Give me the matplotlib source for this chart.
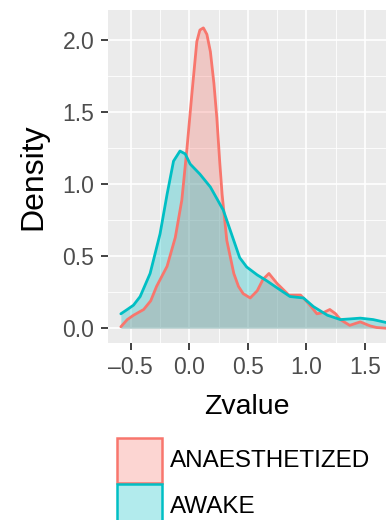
import matplotlib.pyplot as plt
from matplotlib.patches import Rectangle
from matplotlib.ticker import MultipleLocator

plt.rcParams["font.family"] = ["Liberation Sans", "DejaVu Sans"]

# density curves
anaes_x = [-0.585, -0.53, -0.477, -0.39, -0.33, -0.28, -0.19, -0.12, -0.064, -0.02,
           0.021, 0.064, 0.09, 0.12, 0.15, 0.18, 0.21, 0.235, 0.26, 0.28, 0.32,
           0.38, 0.42, 0.46, 0.52, 0.58, 0.63, 0.68, 0.75, 0.85, 0.95, 1.02,
           1.09, 1.15, 1.20, 1.25, 1.29, 1.37, 1.46, 1.545, 1.60, 1.68]
anaes_y = [0.01, 0.06, 0.09, 0.13, 0.19, 0.29, 0.43, 0.63, 0.89, 1.25,
           1.62, 1.99, 2.07, 2.085, 2.04, 1.92, 1.70, 1.46, 1.15, 0.93, 0.61,
           0.38, 0.29, 0.24, 0.21, 0.26, 0.34, 0.38, 0.31, 0.23, 0.23, 0.17,
           0.10, 0.11, 0.13, 0.10, 0.06, 0.02, 0.044, 0.016, 0.005, 0.0]

awake_x = [-0.585, -0.53, -0.477, -0.42, -0.335, -0.25, -0.19, -0.135, -0.08, -0.035,
           0.007, 0.09, 0.18, 0.29, 0.36, 0.43, 0.49, 0.58, 0.66, 0.75, 0.86,
           0.975, 1.06, 1.18, 1.29, 1.38, 1.46, 1.57, 1.68]
awake_y = [0.10, 0.13, 0.16, 0.22, 0.38, 0.655, 0.93, 1.16, 1.23, 1.21,
           1.14, 1.07, 0.98, 0.82, 0.655, 0.49, 0.425, 0.37, 0.33, 0.28, 0.22,
           0.21, 0.15, 0.09, 0.06, 0.065, 0.07, 0.06, 0.04]

groups = ["ANAESTHETIZED", "AWAKE"]
colors = ["#F8766D", "#00BFC4"]
xticks = [-0.5, 0.0, 0.5, 1.0, 1.5]
yticks = [0.0, 0.5, 1.0, 1.5, 2.0]

fig = plt.figure(figsize=(3.86, 5.2), dpi=100)
ax = fig.add_axes([0.28, 0.340, 0.72, 0.641])
ax.set_facecolor("#EBEBEB")
for s in ax.spines.values():
    s.set_visible(False)

for (xs, ys), c in zip([(anaes_x, anaes_y), (awake_x, awake_y)], colors):
    ax.fill_between(xs, ys, 0, color=c, alpha=0.3, lw=0)
    ax.plot(xs, ys, color=c, lw=2.0, solid_capstyle="round", solid_joinstyle="round")

ax.set_xlim(-0.694, 1.68)
ax.set_ylim(-0.104, 2.21)
ax.set_xticks(xticks)
ax.set_yticks(yticks)
ax.set_xticklabels([f"{v:.1f}".replace("-", "\u2013") for v in xticks])
ax.set_yticklabels([f"{v:.1f}" for v in yticks])
ax.xaxis.set_minor_locator(MultipleLocator(0.25))
ax.yaxis.set_minor_locator(MultipleLocator(0.25))
ax.grid(which="major", color="white", lw=1.2)
ax.grid(which="minor", color="white", lw=0.6)
ax.set_axisbelow(True)
ax.tick_params(which="major", length=5, width=1.3, color="#333333",
               labelsize=16.5, labelcolor="#4D4D4D")
ax.tick_params(axis="x", pad=4)
ax.tick_params(axis="y", pad=5)
ax.tick_params(which="minor", length=0)

ax.set_xlabel("Zvalue", fontsize=20.5, labelpad=11)
ax.set_ylabel("Density", fontsize=23, labelpad=10)

# legend, ggplot style
for i, (g, c) in enumerate(zip(groups, colors)):
    y0 = 1 - (483 + i * 46) / 520
    fig.patches.append(Rectangle((117 / 386, y0), 45 / 386, 45 / 520,
                                 transform=fig.transFigure, facecolor=c,
                                 alpha=0.3, edgecolor="none"))
    fig.patches.append(Rectangle((117 / 386, y0), 45 / 386, 45 / 520,
                                 transform=fig.transFigure, facecolor="none",
                                 edgecolor=c, lw=1.8))
    fig.text(170 / 386, y0 + 22 / 520, g, fontsize=17.5, va="center", ha="left")

fig.savefig("out.png", dpi=100)
